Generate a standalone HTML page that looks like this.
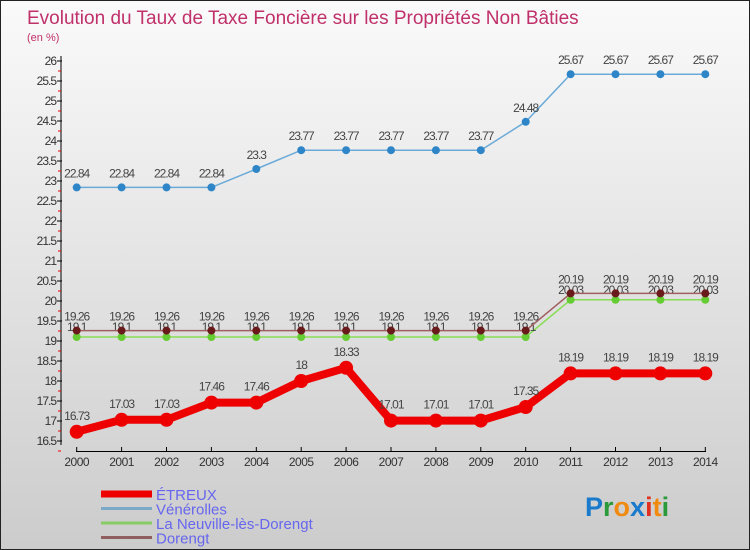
<!DOCTYPE html>
<html><head><meta charset="utf-8"><style>
body{margin:0;}
#wrap{position:relative;width:750px;height:550px;overflow:hidden;font-family:"Liberation Sans",sans-serif;background:linear-gradient(#fafafa,#cccccc);box-sizing:border-box;border:1px solid #222;}
</style></head><body>
<div id="wrap">
<svg id="chart" width="750" height="550" style="position:absolute;left:0;top:0">
<text x="26" y="23" font-size="19" fill="#c0306a">Evolution du Taux de Taxe Foncière sur les Propriétés Non Bâties</text>
<text x="26" y="40" font-size="11" fill="#c0306a">(en %)</text>
<g id="axes"></g><g id="series"></g><g id="legend"></g>
<text x="584" y="515" font-size="27" font-weight="bold" fill="#1a7acc">P<tspan fill="#2a9a3a">r</tspan><tspan fill="#f08a10">o</tspan><tspan fill="#1a7acc">x</tspan><tspan fill="#e03020">i</tspan><tspan fill="#f08a10">t</tspan><tspan fill="#2a9a3a">i</tspan></text>
</svg>
</div>
<script>
const years=[2000,2001,2002,2003,2004,2005,2006,2007,2008,2009,2010,2011,2012,2013,2014];
const etreux=[16.73,17.03,17.03,17.46,17.46,18,18.33,17.01,17.01,17.01,17.35,18.19,18.19,18.19,18.19];
const venerolles=[22.84,22.84,22.84,22.84,23.3,23.77,23.77,23.77,23.77,23.77,24.48,25.67,25.67,25.67,25.67];
const neuville=[19.1,19.1,19.1,19.1,19.1,19.1,19.1,19.1,19.1,19.1,19.1,20.03,20.03,20.03,20.03];
const dorengt=[19.26,19.26,19.26,19.26,19.26,19.26,19.26,19.26,19.26,19.26,19.26,20.19,20.19,20.19,20.19];
const yTicks=[16.5,17,17.5,18,18.5,19,19.5,20,20.5,21,21.5,22,22.5,23,23.5,24,24.5,25,25.5,26];
const seriesNames=["ÉTREUX","Vénérolles","La Neuville-lès-Dorengt","Dorengt"];

const NS="http://www.w3.org/2000/svg";
const X=i=>75.7+i*44.9;
const Y=v=>60+(26-v)*40;
function mk(tag,attrs,parent){const e=document.createElementNS(NS,tag);for(const k in attrs)e.setAttribute(k,attrs[k]);parent.appendChild(e);return e;}
const axes=document.getElementById('axes'),ser=document.getElementById('series'),leg=document.getElementById('legend');

let yl=mk('line',{x1:60,y1:55,x2:60,y2:444,stroke:'#000'},axes);


yTicks.forEach(t=>{
  mk('line',{x1:56,y1:Y(t),x2:61,y2:Y(t),stroke:'#000'},axes);
  mk('line',{x1:57,y1:Y(t)+10,x2:60,y2:Y(t)+10,stroke:'#e00'},axes);
  const tx=mk('text',{x:55,y:Y(t)+4,'font-size':12,'text-anchor':'end',fill:'#333','letter-spacing':'-1'},axes);
  tx.textContent=t;
  
  
});
let xl=mk('line',{x1:75,y1:450.5,x2:705,y2:450.5,stroke:'#000'},axes);


years.forEach((y,i)=>{
  mk('line',{x1:X(i),y1:446,x2:X(i),y2:451,stroke:'#000'},axes);
  const tx=mk('text',{x:X(i),y:465,'font-size':12,'text-anchor':'middle',fill:'#333','letter-spacing':'-0.5'},axes);
  tx.textContent=y;
  
  
});

function draw(vals,color,dot,lw,r,name,dy){
  const g=mk('g',{},ser);
  
  
  mk('polyline',{points:vals.map((v,i)=>X(i)+','+Y(v)).join(' '),fill:'none',stroke:color,'stroke-width':lw},g);
  vals.forEach((v,i)=>{
    const c=mk('circle',{cx:X(i),cy:Y(v),r:r,fill:dot},g);
    
    
    const t=mk('text',{x:X(i),y:Y(v)-dy,'font-size':12,'text-anchor':'middle',fill:'#444','letter-spacing':'-1'},g);
    t.textContent=v;
    
    
  });
}
draw(neuville,'#88dd55','#66cc33',1.5,4,'neuville-series',6);
draw(dorengt,'#a06060','#6a1a1a',1.5,4,'dorengt-series',10);
draw(venerolles,'#6aaad8','#2e86c8',1.5,4,'venerolles-series',10);
draw(etreux,'#ee0000','#ee0000',8,7,'etreux-series',12);

const colors=['#ee0000','#7aaac8','#88cc66','#906060'];
const widths=[7,3,3,3];
seriesNames.forEach((n,i)=>{
  const yy=493+i*14.5;
  const g=mk('g',{},leg);
  
  
  mk('line',{x1:100,y1:yy,x2:151,y2:yy,stroke:colors[i],'stroke-width':widths[i]},g);
  const t=mk('text',{x:155,y:yy+6,'font-size':15,fill:'#6666ee'},g);
  t.textContent=n;
});
</script>
</body></html>
